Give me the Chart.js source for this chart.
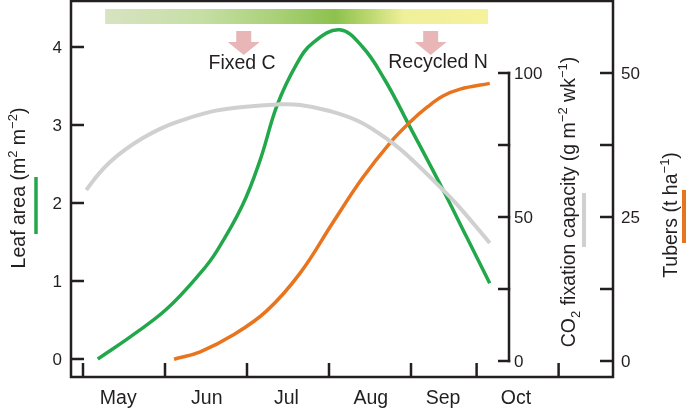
<!DOCTYPE html>
<html>
<head>
<meta charset="utf-8">
<script src="https://cdn.jsdelivr.net/npm/chart.js@4.4.1/dist/chart.umd.min.js"></script>
<style>
  html, body { margin: 0; padding: 0; background: #fff; }
  #wrap { width: 686px; height: 411px; }
</style>
</head>
<body>
<div id="wrap"><canvas id="myChart"></canvas></div>
<script>
// time is in months (5 = 1 May)
var leafMonths = [5.18, 5.61, 6.02, 6.43, 6.63, 6.94, 7.16, 7.37, 7.61, 7.80, 8.13, 8.41, 8.68, 8.99, 9.39, 9.68, 9.96];
var leafArea   = [0, 0.31, 0.64, 1.10, 1.38, 1.96, 2.55, 3.26, 3.79, 4.05, 4.22, 4.0, 3.58, 2.97, 2.17, 1.56, 0.97];

var co2Months   = [5.04, 5.18, 5.33, 5.51, 5.73, 5.94, 6.15, 6.55, 6.95, 7.37, 7.65, 8.01, 8.38, 8.74, 8.99, 9.39, 9.60, 9.96];
var co2Capacity = [59.4, 64.6, 69.1, 73.3, 77.4, 80.6, 83.0, 86.5, 88.2, 89.1, 88.9, 86.8, 83.0, 76.4, 70.5, 59.4, 53.1, 41.0];

var tuberMonths = [6.11, 6.43, 6.83, 7.24, 7.65, 8.05, 8.41, 8.74, 8.99, 9.20, 9.39, 9.60, 9.96];
var tuberYield  = [0.3, 1.6, 4.5, 8.7, 15.3, 24.1, 31.8, 37.8, 41.5, 44.1, 46.0, 47.2, 48.2];

var monthTicks    = [5, 6, 7, 8, 9, 9.8, 10.8];
var monthLabels   = ['May', 'Jun', 'Jul', 'Aug', 'Sep', 'Oct'];
var monthLabelPos = [5.43, 6.51, 7.48, 8.51, 9.39, 10.28];

var leafTicks  = [0, 1, 2, 3, 4];
var co2Ticks   = [0, 25, 50, 75, 100];
var co2Labels  = [0, 50, 100];
var tuberTicks = [0, 12.5, 25, 37.5, 50];
var tuberLabels = [0, 25, 50];

var INK = '#231f20';
var GREEN = '#22a84b';
var ORANGE = '#e8741e';
var GREY = '#d0d0d0';
var FONT = '"Liberation Sans", Arial, sans-serif';

function pts(xs, ys) {
  return xs.map(function (v, i) { return { x: v, y: ys[i] }; });
}

function line(ctx, x1, y1, x2, y2) {
  ctx.beginPath();
  ctx.moveTo(x1, y1);
  ctx.lineTo(x2, y2);
  ctx.stroke();
}

// draws text made of normal / sup / sub pieces, centred on (0,0) baseline
function richText(ctx, segs, big, small) {
  var total = 0;
  segs.forEach(function (s) {
    ctx.font = (s[1] ? small : big) + 'px ' + FONT;
    s.w = ctx.measureText(s[0]).width;
    total += s.w;
  });
  var x = -total / 2;
  segs.forEach(function (s) {
    ctx.font = (s[1] ? small : big) + 'px ' + FONT;
    var dy = s[1] === 'sup' ? -big * 0.42 : (s[1] === 'sub' ? big * 0.25 : 0);
    ctx.fillText(s[0], x, dy);
    x += s.w;
  });
}

function vTitle(ctx, segs, bx, cy) {
  ctx.save();
  ctx.translate(bx, cy);
  ctx.rotate(-Math.PI / 2);
  ctx.textAlign = 'left';
  ctx.textBaseline = 'alphabetic';
  richText(ctx, segs, 19.5, 13);
  ctx.restore();
}

function arrow(ctx, cx) {
  ctx.fillStyle = '#e8b6b6';
  ctx.beginPath();
  ctx.moveTo(cx - 7.5, 31);
  ctx.lineTo(cx + 7.5, 31);
  ctx.lineTo(cx + 7.5, 42);
  ctx.lineTo(cx + 16, 42);
  ctx.lineTo(cx, 55);
  ctx.lineTo(cx - 16, 42);
  ctx.lineTo(cx - 7.5, 42);
  ctx.closePath();
  ctx.fill();
}

var decor = {
  id: 'decor',
  afterDraw: function (chart) {
    var ctx = chart.ctx;
    var a = chart.chartArea;
    var x = chart.scales.x, yL = chart.scales.y, yC = chart.scales.yCO2, yT = chart.scales.yTub;
    ctx.save();

    // season bar
    var bx1 = x.getPixelForValue(5.27), bx2 = x.getPixelForValue(9.94);
    var g = ctx.createLinearGradient(bx1, 0, bx2, 0);
    g.addColorStop(0, '#d8e3c2');
    g.addColorStop(0.25, '#c6dfa5');
    g.addColorStop(0.45, '#a9d077');
    g.addColorStop(0.6, '#8dc14e');
    g.addColorStop(0.68, '#b6d56a');
    g.addColorStop(0.78, '#eff09a');
    g.addColorStop(1, '#f6f29c');
    ctx.fillStyle = g;
    ctx.fillRect(bx1, 9, bx2 - bx1, 15);

    arrow(ctx, x.getPixelForValue(6.96));
    arrow(ctx, x.getPixelForValue(9.24));
    ctx.fillStyle = INK;
    ctx.font = '19.5px ' + FONT;
    ctx.textAlign = 'center';
    ctx.textBaseline = 'alphabetic';
    ctx.fillText('Fixed C', x.getPixelForValue(6.94), 69);
    ctx.fillText('Recycled N', x.getPixelForValue(9.33), 68);

    // frame
    ctx.strokeStyle = INK;
    ctx.lineWidth = 2.5;
    ctx.strokeRect(a.left, a.top, a.right - a.left, a.bottom - a.top);

    // left axis
    ctx.font = '17px ' + FONT;
    ctx.textAlign = 'right';
    leafTicks.forEach(function (v) {
      var py = yL.getPixelForValue(v);
      line(ctx, a.left, py, a.left + 13, py);
      ctx.fillText(String(v), a.left - 9, py + 6);
    });

    // bottom axis
    monthTicks.forEach(function (v) {
      var px = x.getPixelForValue(v);
      line(ctx, px, a.bottom, px, a.bottom - 14);
    });
    ctx.font = '19.5px ' + FONT;
    ctx.textAlign = 'center';
    monthLabels.forEach(function (m, i) {
      ctx.fillText(m, x.getPixelForValue(monthLabelPos[i]), a.bottom + 27);
    });

    // CO2 axis
    var cx = a.right - 104;
    line(ctx, cx, yC.getPixelForValue(0) + 1.25, cx, yC.getPixelForValue(100) - 1.25);
    co2Ticks.forEach(function (v) {
      var py = yC.getPixelForValue(v);
      line(ctx, cx - 11, py, cx + 1.25, py);
    });
    ctx.font = '17px ' + FONT;
    ctx.textAlign = 'left';
    co2Labels.forEach(function (v) {
      ctx.fillText(String(v), cx + 5, yC.getPixelForValue(v) + 6.5);
    });

    // tubers axis
    tuberTicks.forEach(function (v) {
      var py = yT.getPixelForValue(v);
      line(ctx, a.right - 13, py, a.right, py);
    });
    tuberLabels.forEach(function (v) {
      ctx.fillText(String(v), a.right + 8, yT.getPixelForValue(v) + 6);
    });

    // axis titles
    ctx.fillStyle = INK;
    vTitle(ctx, [['Leaf area (m'], ['2', 'sup'], [' m'], ['\u22122', 'sup'], [')']], 25, 188);
    vTitle(ctx, [['CO'], ['2', 'sub'], [' fixation capacity (g m'], ['\u22122', 'sup'], [' wk'], ['\u22121', 'sup'], [')']], 575, 202);
    vTitle(ctx, [['Tubers (t ha'], ['\u22121', 'sup'], [')']], 677, 215);

    // colour keys
    ctx.lineWidth = 3.5;
    ctx.strokeStyle = GREEN;
    line(ctx, 36, 177, 36, 234);
    ctx.lineWidth = 4;
    ctx.strokeStyle = GREY;
    line(ctx, 584, 193, 584, 247);
    ctx.lineWidth = 5;
    ctx.strokeStyle = ORANGE;
    line(ctx, 684.5, 190, 684.5, 243);

    ctx.restore();
  }
};

var ctx = document.getElementById('myChart').getContext('2d');
var chart = new Chart(ctx, {
  type: 'line',
  data: {
    datasets: [{
      label: 'CO2 fixation capacity',
      data: pts(co2Months, co2Capacity),
      yAxisID: 'yCO2',
      borderColor: GREY,
      borderWidth: 4,
      tension: 0.4
    }, {
      label: 'Tubers',
      data: pts(tuberMonths, tuberYield),
      yAxisID: 'yTub',
      borderColor: ORANGE,
      borderWidth: 3.5,
      tension: 0.4
    }, {
      label: 'Leaf area',
      data: pts(leafMonths, leafArea),
      yAxisID: 'y',
      borderColor: GREEN,
      borderWidth: 3.5,
      tension: 0.4
    }]
  },
  options: {
    responsive: true,
    maintainAspectRatio: false,
    animation: false,
    layout: { padding: { left: 71, right: 73, top: 1, bottom: 34 } },
    elements: {
      point: { radius: 0 },
      line: { fill: false }
    },
    plugins: { legend: { display: false }, tooltip: { enabled: false } },
    scales: {
      x: { type: 'linear', display: false, min: 4.8537, max: 11.4634 },
      y: { display: false, min: -0.2308, max: 4.5897 },
      yCO2: { display: false, min: -5.556, max: 125.0 },
      yTub: { display: false, min: -2.778, max: 62.5 }
    }
  },
  plugins: [decor]
});
</script>
</body>
</html>
